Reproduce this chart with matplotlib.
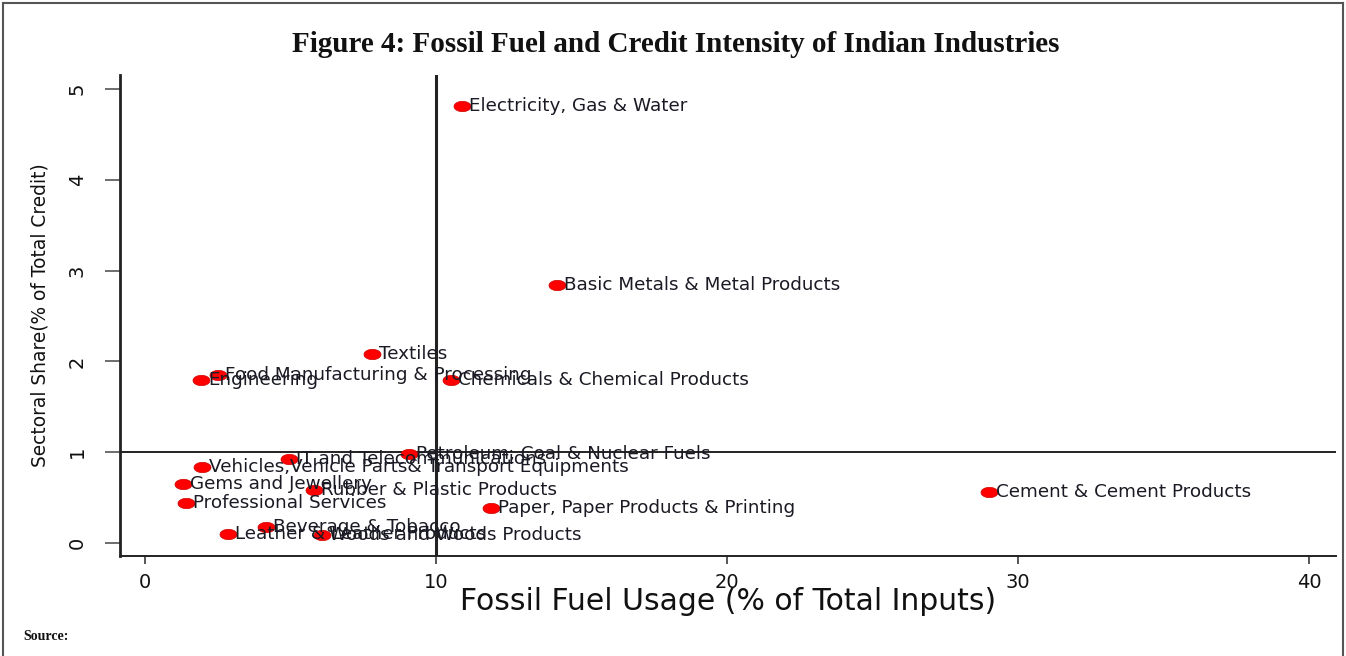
import numpy as np
import matplotlib.pyplot as plt
from matplotlib.lines import Line2D

# -----------------------------
# Data
# -----------------------------
industries = [
    "Electricity, Gas & Water",
    "Basic Metals & Metal Products",
    "Textiles",
    "Food Manufacturing & Processing",
    "Engineering",
    "Chemicals & Chemical Products",
    "Petroleum, Coal & Nuclear Fuels",
    "IT and Telecommunications",
    "Vehicles,Vehicle Parts& Transport Equipments",
    "Gems and Jewellery",
    "Rubber & Plastic Products",
    "Cement & Cement Products",
    "Professional Services",
    "Paper, Paper Products & Printing",
    "Beverage & Tobacco",
    "Leather & Leather Products",
    "Woods and Woods Products",
]
fossil_fuel = [10.9, 14.16, 7.8, 2.51, 1.92, 10.52, 9.07, 4.95, 1.96,
               1.31, 5.81, 29.0, 1.41, 11.89, 4.16, 2.85, 6.08]
credit_share = [4.81, 2.84, 2.08, 1.85, 1.80, 1.80, 0.98, 0.925, 0.84,
                0.65, 0.58, 0.56, 0.44, 0.385, 0.18, 0.10, 0.09]

W, H = 1346, 656
LABEL_FONT = "DejaVu Sans"

# -----------------------------
# Figure
# -----------------------------
fig = plt.figure(figsize=(W / 100, H / 100), dpi=100)
ax = fig.add_axes([120 / W, 100 / H, 1216 / W, 481 / H])

# the source graph is stretched sideways, so the dots are wide ellipses
t = np.linspace(0, 2 * np.pi, 60)
ellipse = np.column_stack([1.65 * np.cos(t), np.sin(t)])

ax.scatter(fossil_fuel, credit_share, s=150, marker=ellipse, color="#ff0000",
           edgecolors="#d00000", linewidths=0.5, zorder=3)
for name, x, y in zip(industries, fossil_fuel, credit_share):
    ax.annotate(name, (x, y), xytext=(5, 0), textcoords="offset points",
                va="center", ha="left", fontsize=13.2,
                family=LABEL_FONT, color="#1a1a24", zorder=4)

ax.axvline(10, color="#222222", lw=2.2, zorder=2)
ax.axhline(1, color="#222222", lw=1.4, zorder=2)

ax.set_xlim(-0.86, 40.93)
ax.set_ylim(-0.143, 5.154)
ax.set_xticks([0, 10, 20, 30, 40])
ax.set_yticks([0, 1, 2, 3, 4, 5])

for side in ["top", "right"]:
    ax.spines[side].set_visible(False)
ax.spines["left"].set_linewidth(2.0)
ax.spines["bottom"].set_linewidth(1.4)
for side in ["left", "bottom"]:
    ax.spines[side].set_color("#222222")

ax.tick_params(axis="x", direction="out", length=6, width=1.4,
               color="#555555", labelsize=14, pad=6.5)
ax.tick_params(axis="y", direction="out", length=10.8, width=1.2,
               color="#555555", labelsize=14, pad=13)
for lab in ax.get_xticklabels():
    lab.set_family(LABEL_FONT)
    lab.set_color("#111111")
for lab in ax.get_yticklabels():
    lab.set_family(LABEL_FONT)
    lab.set_color("#111111")
    lab.set_rotation(90)
    lab.set_va("center")

fig.text(728 / W, 1 - 601 / H, "Fossil Fuel Usage (% of Total Inputs)",
         ha="center", va="center", fontsize=21.5, family=LABEL_FONT,
         color="#111111")
fig.text(40 / W, 1 - 315 / H, "Sectoral Share(% of Total Credit)",
         ha="center", va="center", rotation=90, fontsize=13.4,
         family=LABEL_FONT, color="#111111")

fig.text(676 / W, 1 - 44 / H,
         "Figure 4: Fossil Fuel and Credit Intensity of Indian Industries",
         ha="center", va="center", fontsize=21, fontweight="bold",
         family="Liberation Serif", color="#111111")
fig.text(23 / W, 1 - 637 / H, "Source:", ha="left", va="center",
         fontsize=10, fontweight="bold", family="Liberation Serif",
         color="#111111")

# frame around the figure
frame_kw = dict(transform=fig.transFigure, color="#555555", lw=1.5)
fig.add_artist(Line2D([3 / W, 3 / W], [0, 1 - 3 / H], **frame_kw))
fig.add_artist(Line2D([3 / W, 1343 / W], [1 - 3 / H, 1 - 3 / H], **frame_kw))
fig.add_artist(Line2D([1343 / W, 1343 / W], [0, 1 - 3 / H], **frame_kw))

fig.savefig("out.png", dpi=100)
plt.close(fig)
